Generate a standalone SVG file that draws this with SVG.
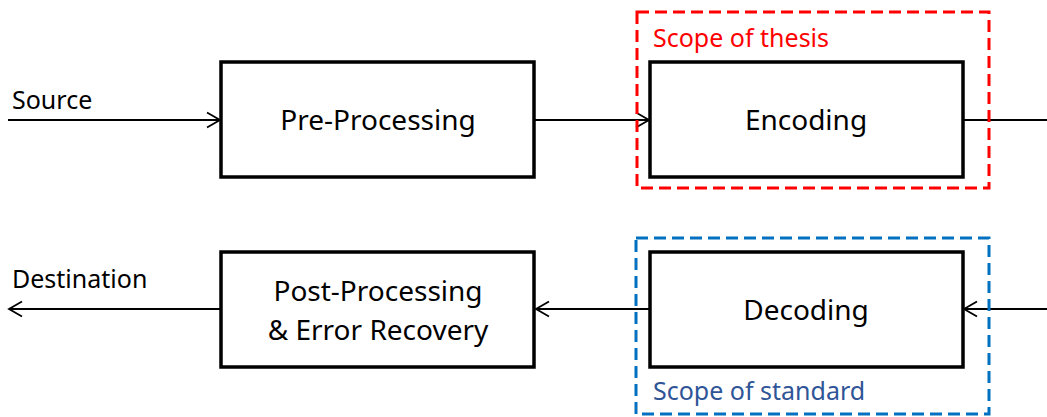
<svg xmlns="http://www.w3.org/2000/svg" width="1047" height="417" viewBox="0 0 1047 417">
<style>
.box{fill:#fff;stroke:#000;stroke-width:3.5}
.t{font-family:"Noto Sans","Open Sans",sans-serif;font-size:28px;fill:#000;text-anchor:middle}
.lbl{font-family:"Noto Sans","Open Sans",sans-serif;font-size:25px;fill:#000}
.con{stroke:#000;stroke-width:1.8;fill:none}
.scope-r{fill:none;stroke:#FF0000;stroke-width:3;stroke-dasharray:12 6}
.scope-b{fill:none;stroke:#0070C0;stroke-width:3;stroke-dasharray:12 6}
</style>
<defs>
<marker id="arr" markerUnits="userSpaceOnUse" markerWidth="16" markerHeight="18" viewBox="-14 -9 16 18" refX="0" refY="0" orient="auto">
<path d="M-13,-7.5 L0,0 L-13,7.5" fill="none" stroke="#000" stroke-width="1.8"/>
</marker>
</defs>
<rect width="1047" height="417" fill="#fff"/>
<g id="connectors">
<line class="con" x1="8" y1="120" x2="220" y2="120" marker-end="url(#arr)"/>
<line class="con" x1="535" y1="120" x2="649" y2="120" marker-end="url(#arr)"/>
<line class="con" x1="963" y1="120" x2="1047" y2="120"/>
<line class="con" x1="1047" y1="309" x2="964" y2="309" marker-end="url(#arr)"/>
<line class="con" x1="650" y1="309" x2="536" y2="309" marker-end="url(#arr)"/>
<line class="con" x1="221" y1="309" x2="9" y2="309" marker-end="url(#arr)"/>
</g>
<g id="source-label"><text class="lbl" x="12" y="109">Source</text></g>
<g id="destination-label"><text class="lbl" x="12" y="288">Destination</text></g>
<g id="pre-processing">
<rect class="box" x="221" y="62" width="313" height="115"/>
<text class="t" x="378" y="130">Pre-Processing</text>
</g>
<g id="encoding">
<rect class="box" x="650" y="62" width="313" height="115"/>
<text class="t" x="806" y="130">Encoding</text>
</g>
<g id="post-processing">
<rect class="box" x="221" y="252" width="313" height="115"/>
<text class="t" x="378" y="301">Post-Processing</text>
<text class="t" x="378" y="340">&amp; Error Recovery</text>
</g>
<g id="decoding">
<rect class="box" x="650" y="252" width="313" height="115"/>
<text class="t" x="806" y="320">Decoding</text>
</g>
<g id="scope-thesis">
<rect class="scope-r" x="637" y="12" width="352" height="176"/>
<text class="lbl" x="653" y="47" style="fill:#FF0000">Scope of thesis</text>
</g>
<g id="scope-standard">
<rect class="scope-b" x="636" y="238" width="353" height="176"/>
<text class="lbl" x="653" y="400" style="fill:#2F5597">Scope of standard</text>
</g>
</svg>
